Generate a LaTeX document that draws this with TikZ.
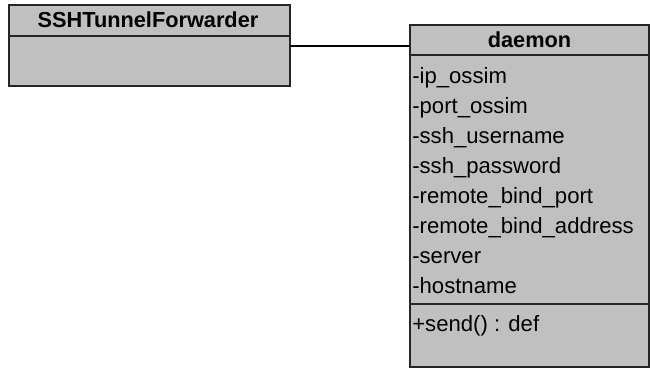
\documentclass[tikz,border=0pt]{standalone}
\usepackage{fontspec}
\setmainfont{Liberation Sans}
\begin{document}
\begin{tikzpicture}[x=0.75pt,y=-0.75pt,
  classbox/.style={draw=black!85,line width=1.1pt,fill=umlgray},
  divider/.style={draw=black!85,line width=1.1pt},
  member/.style={anchor=base west,inner sep=0pt,font=\fontsize{16.6}{18}\selectfont},
  title/.style={anchor=base,inner sep=0pt,font=\fontsize{16.3}{18}\selectfont\bfseries},
  link/.style={draw=black,line width=1.1pt}]
\definecolor{umlgray}{HTML}{C0C0C0}
\useasboundingbox (0,0) rectangle (650,369);
% SSHTunnelForwarder class
\path[classbox] (9,5) rectangle (290,86);
\coordinate (fwdR) at (290,46);
\draw[divider] (9,36) -- (290,36);
\node[title] (fwdT) at (148,27) {SSHTunnelForwarder};
% daemon class
\path[classbox] (410,25) rectangle (649,367);
\coordinate (dmnL) at (410,46);
\draw[divider] (410,55) -- (649,55);
\draw[divider] (410,304) -- (649,304);
\node[title] (dmnT) at (529.5,47) {daemon};
\node[member] (a1) at (412,83) {-ip\_ossim};
\node[member] (a2) at (412,113) {-port\_ossim};
\node[member] (a3) at (412,143) {-ssh\_username};
\node[member] (a4) at (412,173) {-ssh\_password};
\node[member] (a5) at (412,203) {-remote\_bind\_port};
\node[member] (a6) at (412,233) {-remote\_bind\_address};
\node[member] (a7) at (412,263) {-server};
\node[member] (a8) at (412,293) {-hostname};
\node[member] (m1) at (412,331) {+send() : def};
% association
\draw[link] (fwdR) -- (dmnL);
\end{tikzpicture}
\end{document}
